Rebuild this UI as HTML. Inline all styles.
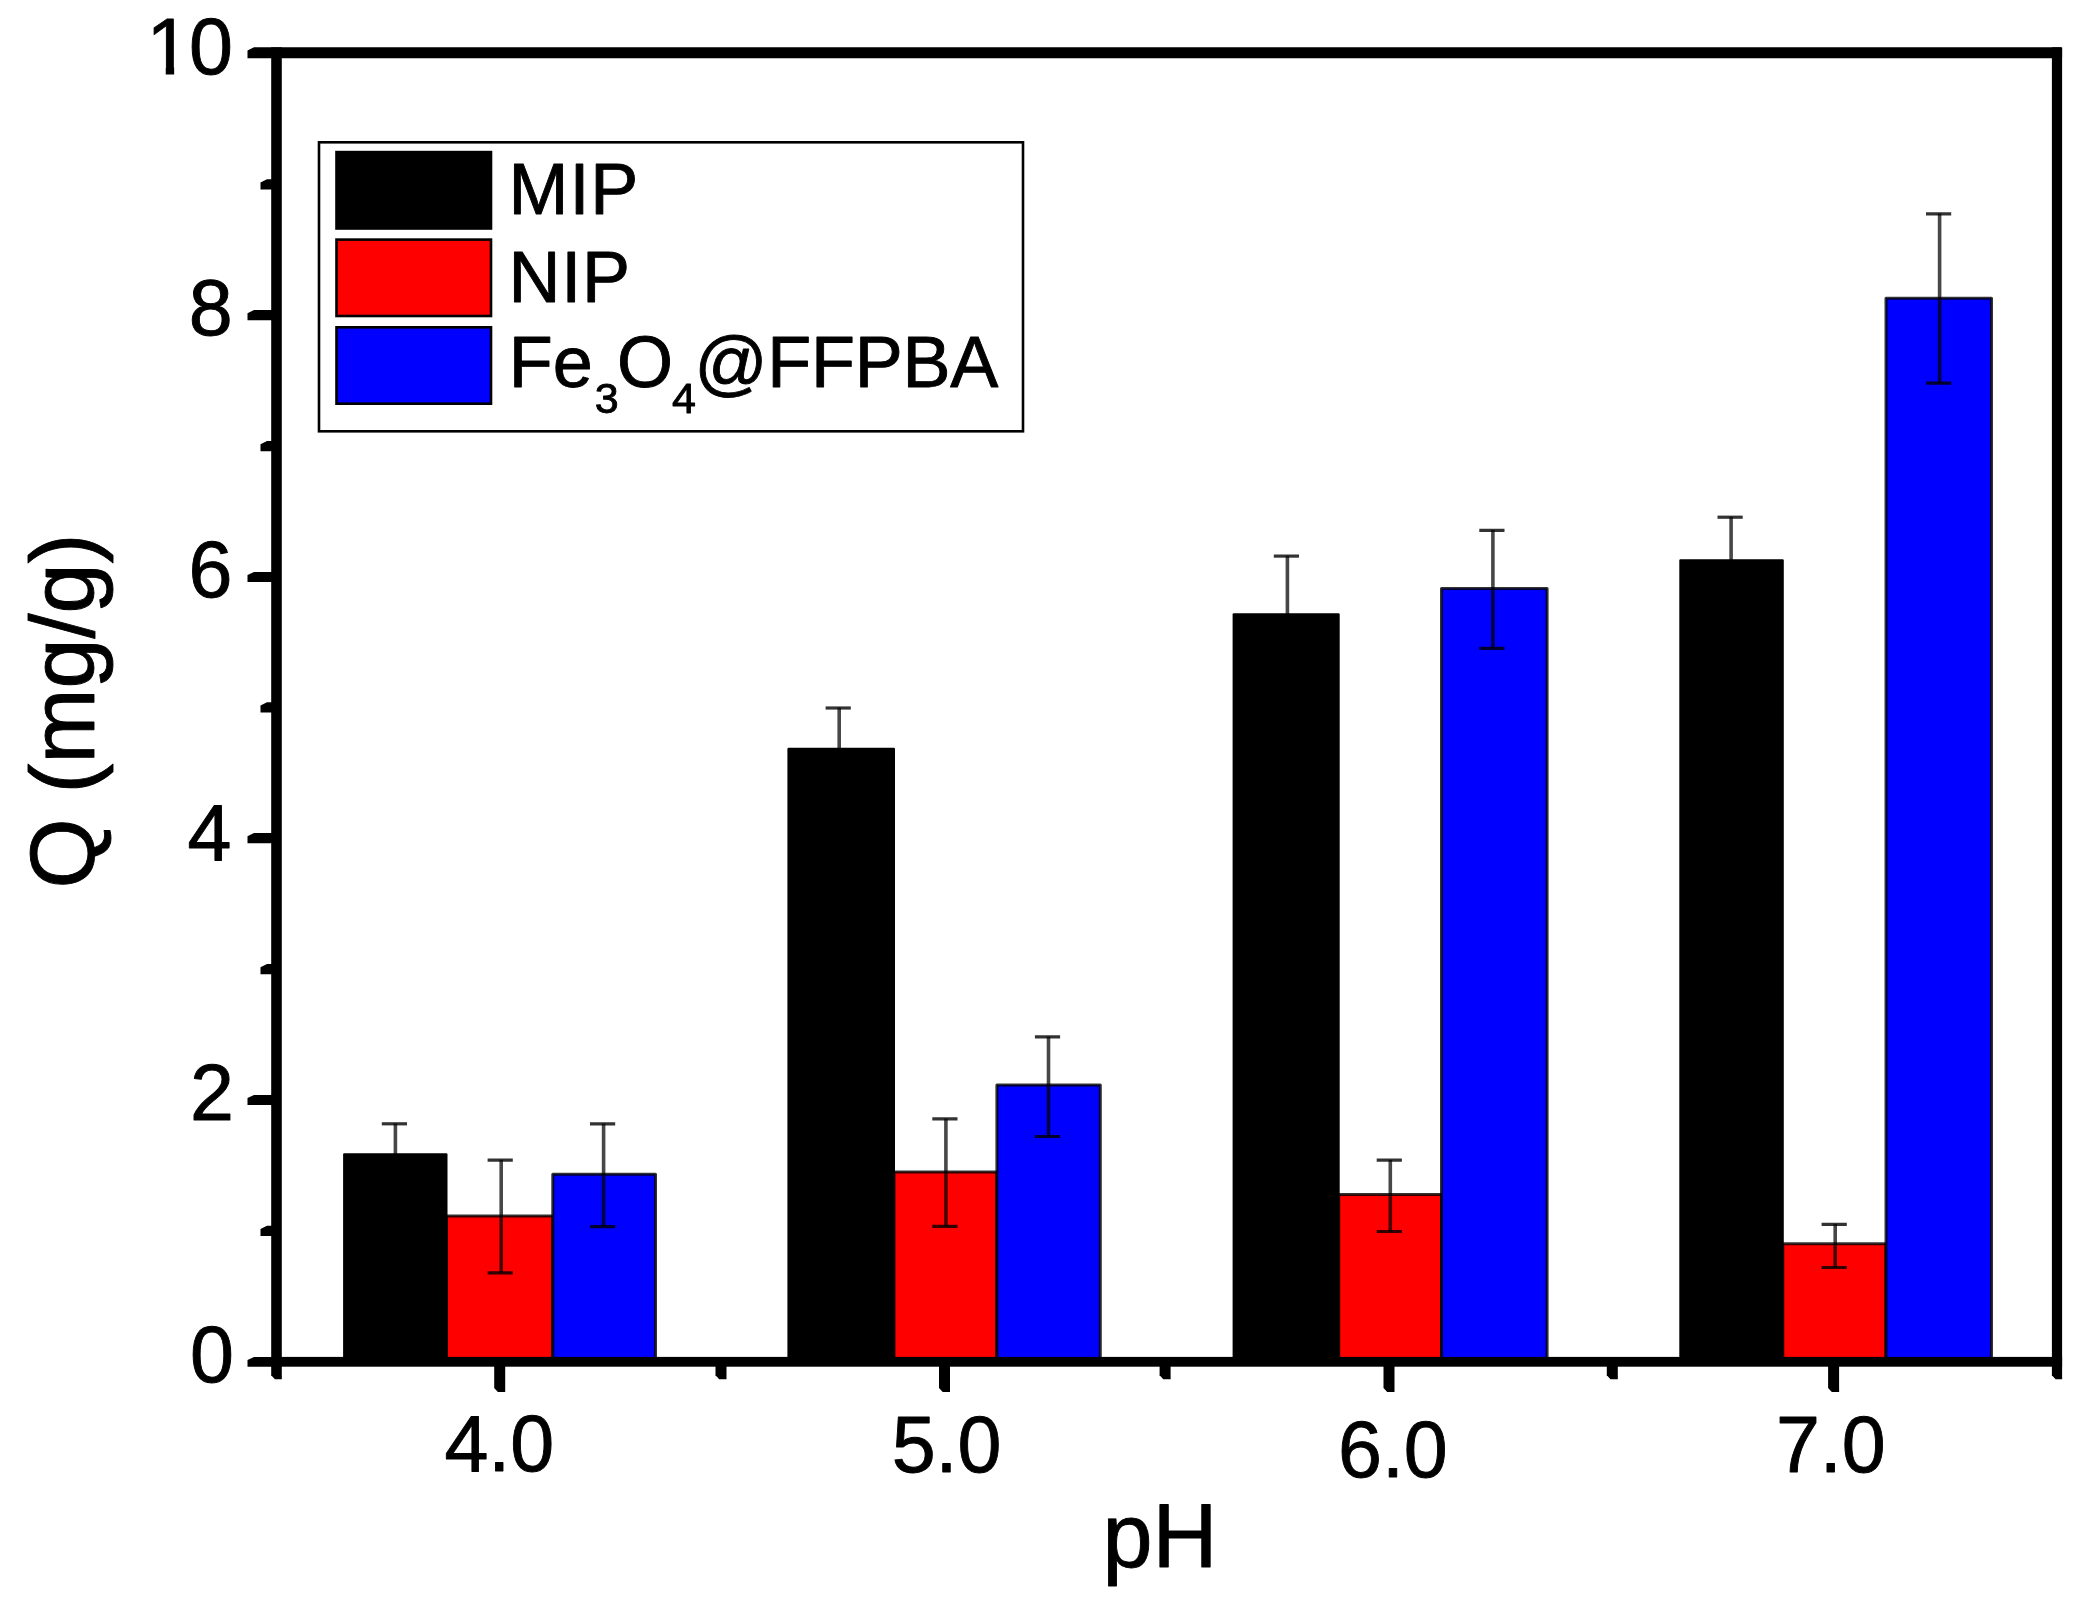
<!DOCTYPE html>
<html lang="en"><head><meta charset="utf-8"><title>Q vs pH</title>
<style>
html,body{margin:0;padding:0;background:#fff;}
body{width:2095px;height:1606px;overflow:hidden;}
svg{display:block;filter:blur(0.7px);}
text{stroke:#000;stroke-width:0.9px;stroke-linejoin:round;}
</style></head><body>
<svg width="2095" height="1606" viewBox="0 0 2095 1606">
<rect width="2095" height="1606" fill="#fff"/>
<rect x="446.50" y="1215.90" width="106.30" height="143.90" fill="#f00" stroke="#000" stroke-opacity="0.8" stroke-width="3.0" stroke-linejoin="round"/>
<rect x="552.80" y="1174.20" width="102.70" height="185.60" fill="#00f" stroke="#000" stroke-opacity="0.8" stroke-width="3.0" stroke-linejoin="round"/>
<rect x="343.10" y="1153.20" width="104.40" height="206.60" rx="1.2" fill="#000"/>
<rect x="894.00" y="1171.90" width="102.90" height="187.90" fill="#f00" stroke="#000" stroke-opacity="0.8" stroke-width="3.0" stroke-linejoin="round"/>
<rect x="996.90" y="1084.90" width="103.40" height="274.90" fill="#00f" stroke="#000" stroke-opacity="0.8" stroke-width="3.0" stroke-linejoin="round"/>
<rect x="787.40" y="747.80" width="107.60" height="612.00" rx="1.2" fill="#000"/>
<rect x="1338.70" y="1194.50" width="102.80" height="165.30" fill="#f00" stroke="#000" stroke-opacity="0.8" stroke-width="3.0" stroke-linejoin="round"/>
<rect x="1441.50" y="588.40" width="105.60" height="771.40" fill="#00f" stroke="#000" stroke-opacity="0.8" stroke-width="3.0" stroke-linejoin="round"/>
<rect x="1232.60" y="613.20" width="107.10" height="746.60" rx="1.2" fill="#000"/>
<rect x="1782.80" y="1243.80" width="103.20" height="116.00" fill="#f00" stroke="#000" stroke-opacity="0.8" stroke-width="3.0" stroke-linejoin="round"/>
<rect x="1886.00" y="298.20" width="105.50" height="1061.60" fill="#00f" stroke="#000" stroke-opacity="0.8" stroke-width="3.0" stroke-linejoin="round"/>
<rect x="1679.30" y="559.20" width="104.50" height="800.60" rx="1.2" fill="#000"/>
<g stroke="#000" fill="none">
<path stroke-width="3.6" stroke-opacity="0.72" d="M395.4 1123.5V1154.5"/>
<path stroke-width="3.2" stroke-opacity="0.8" d="M381.8 1123.8H407.0"/>
<path stroke-width="3.6" stroke-opacity="0.72" d="M501.2 1159.8V1272.8"/>
<path stroke-width="3.2" stroke-opacity="0.8" d="M487.6 1160.1H512.8M487.6 1272.8H512.8"/>
<path stroke-width="3.6" stroke-opacity="0.72" d="M603.6 1123.5V1226.6"/>
<path stroke-width="3.2" stroke-opacity="0.8" d="M590.0 1123.8H615.2M590.0 1226.6H615.2"/>
<path stroke-width="3.6" stroke-opacity="0.72" d="M839.2 707.7V749.0"/>
<path stroke-width="3.2" stroke-opacity="0.8" d="M825.6 708.0H850.8"/>
<path stroke-width="3.6" stroke-opacity="0.72" d="M945.9 1118.6V1226.4"/>
<path stroke-width="3.2" stroke-opacity="0.8" d="M932.3 1118.9H957.5M932.3 1226.4H957.5"/>
<path stroke-width="3.6" stroke-opacity="0.72" d="M1048.5 1036.6V1136.5"/>
<path stroke-width="3.2" stroke-opacity="0.8" d="M1034.9 1036.9H1060.1M1034.9 1136.5H1060.1"/>
<path stroke-width="3.6" stroke-opacity="0.72" d="M1287.4 555.8V614.5"/>
<path stroke-width="3.2" stroke-opacity="0.8" d="M1273.8 556.1H1299.0"/>
<path stroke-width="3.6" stroke-opacity="0.72" d="M1390.3 1159.9V1231.5"/>
<path stroke-width="3.2" stroke-opacity="0.8" d="M1376.7 1160.2H1401.9M1376.7 1231.5H1401.9"/>
<path stroke-width="3.6" stroke-opacity="0.72" d="M1492.9 530.0V648.4"/>
<path stroke-width="3.2" stroke-opacity="0.8" d="M1479.3 530.3H1504.5M1479.3 648.4H1504.5"/>
<path stroke-width="3.6" stroke-opacity="0.72" d="M1731.1 516.9V560.5"/>
<path stroke-width="3.2" stroke-opacity="0.8" d="M1717.5 517.2H1742.7"/>
<path stroke-width="3.6" stroke-opacity="0.72" d="M1835.2 1224.1V1267.5"/>
<path stroke-width="3.2" stroke-opacity="0.8" d="M1821.6 1224.4H1846.8M1821.6 1267.5H1846.8"/>
<path stroke-width="3.6" stroke-opacity="0.72" d="M1939.6 213.5V383.2"/>
<path stroke-width="3.2" stroke-opacity="0.8" d="M1926.0 213.8H1951.2M1926.0 383.2H1951.2"/>
</g>
<g fill="#000" stroke="none">
<path d="M276.5 47.3H2060.6L2062.1 48.8V58.3H276.5Z"/>
<rect x="276.5" y="1356.9" width="1785.6" height="9.8"/>
<rect x="271.2" y="47.3" width="10.6" height="1314.5"/>
<rect x="2051.9" y="47.3" width="10.2" height="1314.5"/>
<path d="M254.0 47.3H276.5V58.3H247.5V50.5Z"/>
<path d="M254.0 1356.9H276.5V1366.7H247.5V1360.1Z"/>
<path d="M267.0 1225.8H276.5V1236.0H260.5V1229.0Z"/>
<path d="M254.0 1094.9H276.5V1105.1H247.5V1098.1Z"/>
<path d="M267.0 964.0H276.5V974.2H260.5V967.2Z"/>
<path d="M254.0 833.1H276.5V843.3H247.5V836.3Z"/>
<path d="M267.0 702.2H276.5V712.4H260.5V705.4Z"/>
<path d="M254.0 571.9H276.5V582.1H247.5V575.1Z"/>
<path d="M267.0 441.0H276.5V451.2H260.5V444.2Z"/>
<path d="M254.0 310.1H276.5V320.3H247.5V313.3Z"/>
<path d="M267.0 179.2H276.5V189.4H260.5V182.4Z"/>
<path d="M271.2 1361.8H281.8V1379.2H274.9L271.2 1375.2Z"/>
<path d="M2051.9 1361.8H2062.1V1379.2H2055.6L2051.9 1375.2Z"/>
<path d="M494.2 1361.8H505.2V1392.0H497.9L494.2 1388.0Z"/>
<path d="M715.5 1361.8H726.5V1379.2H719.2L715.5 1375.2Z"/>
<path d="M939.0 1361.8H950.0V1392.0H942.7L939.0 1388.0Z"/>
<path d="M1159.6 1361.8H1170.6V1379.2H1163.3L1159.6 1375.2Z"/>
<path d="M1383.5 1361.8H1394.5V1392.0H1387.2L1383.5 1388.0Z"/>
<path d="M1606.8 1361.8H1617.8V1379.2H1610.5L1606.8 1375.2Z"/>
<path d="M1828.1 1361.8H1839.1V1392.0H1831.8L1828.1 1388.0Z"/>
</g>
<g font-family='"Liberation Sans", sans-serif' font-size="79" fill="#000">
<text x="234" y="1381.8" text-anchor="end">0</text>
<text x="234" y="1119.7" text-anchor="end">2</text>
<text x="231.5" y="859.7" text-anchor="end">4</text>
<text x="232.5" y="597.4" text-anchor="end">6</text>
<text x="232.7" y="334.5" text-anchor="end">8</text>
<text y="73.6"><tspan x="146.4">1</tspan><tspan x="188.9">0</tspan></text>
<rect x="147" y="66.4" width="18.75" height="10" fill="#fff"/>
<rect x="174.15" y="66.4" width="14.4" height="10" fill="#fff"/>
<text x="499.3" y="1471.3" text-anchor="middle">4.0</text>
<text x="946.6" y="1472" text-anchor="middle">5.0</text>
<text x="1392.9" y="1477" text-anchor="middle">6.0</text>
<text x="1830.8" y="1472" text-anchor="middle">7.0</text>
</g>
<text x="1160" y="1567" text-anchor="middle" font-family='"Liberation Sans", sans-serif' font-size="90" fill="#000">pH</text>
<text transform="translate(94,711) rotate(-90)" text-anchor="middle" font-family='"Liberation Sans", sans-serif' font-size="90" fill="#000">Q (mg/g)</text>
<rect x="319" y="142.3" width="704" height="289" fill="#fff" stroke="#000" stroke-width="2.6"/>
<rect x="336.5" y="152.1" width="154.5" height="76.4" fill="#000" stroke="#000" stroke-width="2.6"/>
<rect x="336.5" y="239.6" width="154.5" height="76.4" fill="#f00" stroke="#000" stroke-width="2.6"/>
<rect x="336.5" y="327.3" width="154.5" height="76.4" fill="#00f" stroke="#000" stroke-width="2.6"/>
<g font-family='"Liberation Sans", sans-serif' font-size="72" fill="#000">
<text x="508.5" y="214.3" letter-spacing="0.9">MIP</text>
<text x="508.5" y="301.8" letter-spacing="0.8">NIP</text>
<text y="387.3"><tspan x="508.8">Fe</tspan><tspan font-size="43" x="594.8" dy="25.3">3</tspan><tspan x="617" dy="-25.3">O</tspan><tspan font-size="43" x="672" dy="25.3">4</tspan><tspan x="694.5" dy="-25.3" letter-spacing="-0.25">@FFPBA</tspan></text>
</g>
</svg>
</body></html>
